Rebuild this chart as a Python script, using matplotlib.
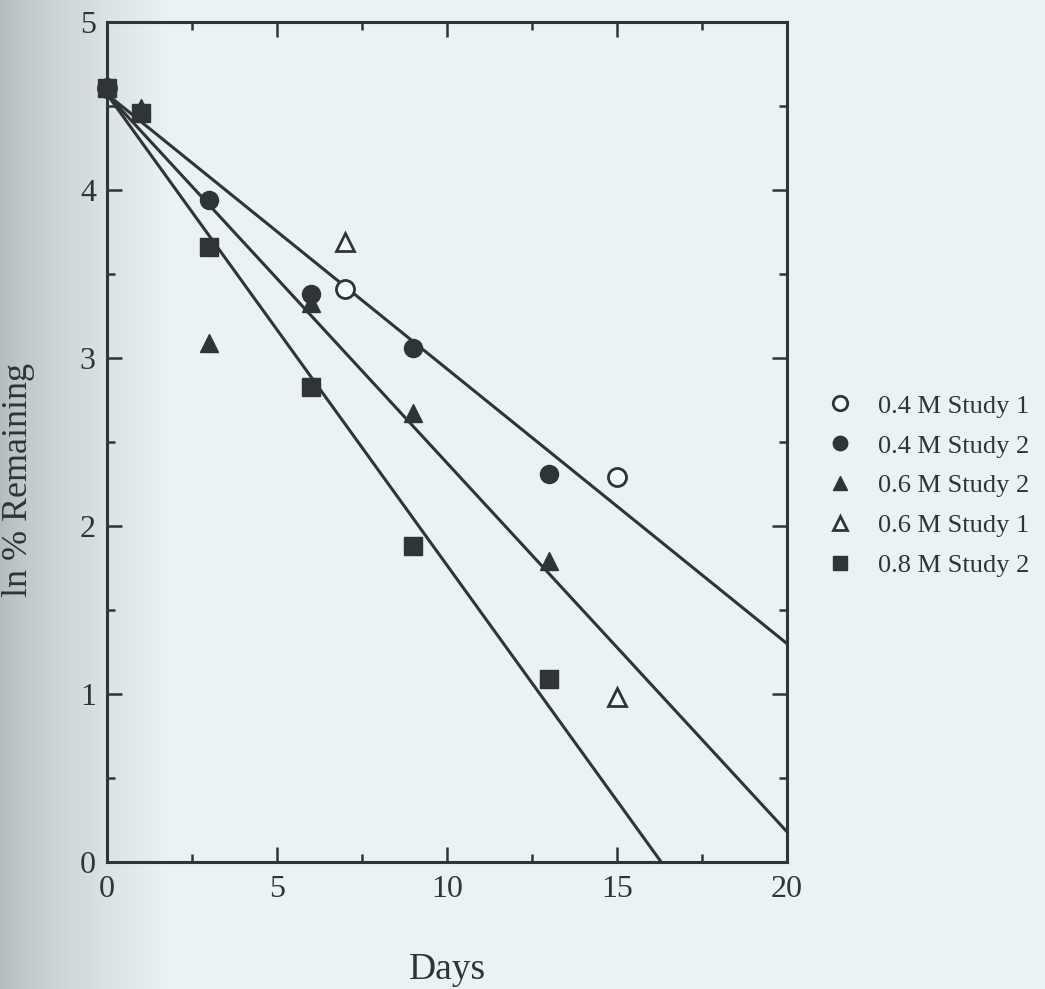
import numpy as np
import matplotlib
matplotlib.use("Agg")
from matplotlib import pyplot as plt
from matplotlib.ticker import MultipleLocator

# measured points (days, ln % remaining)
days_04_s1 = [0, 7, 15]
ln_04_s1 = [4.605, 3.41, 2.29]
days_04_s2 = [3, 6, 9, 13]
ln_04_s2 = [3.94, 3.38, 3.06, 2.31]
days_06_s2 = [1, 3, 6, 9, 13]
ln_06_s2 = [4.49, 3.09, 3.33, 2.67, 1.79]
days_06_s1 = [7, 15]
ln_06_s1 = [3.69, 0.98]
days_08_s2 = [0, 1, 3, 6, 9, 13]
ln_08_s2 = [4.605, 4.46, 3.66, 2.83, 1.88, 1.09]

# fitted lines, read as end points
fit_04_x = [0, 20]
fit_04_y = [4.57, 1.30]
fit_06_x = [0, 20]
fit_06_y = [4.57, 0.18]
fit_08_x = [0, 16.3]
fit_08_y = [4.57, 0.0]

ink = '#2f3537'
paper = '#e9f2f4'

plt.rcParams['font.family'] = ['Liberation Serif', 'DejaVu Serif']
plt.rcParams['mathtext.fontset'] = 'custom'
plt.rcParams['mathtext.rm'] = 'Liberation Serif'
plt.rcParams['mathtext.it'] = 'Liberation Serif:italic'

fig = plt.figure(figsize=(10.45, 9.89), dpi=100, facecolor=paper)

# scanned page shading on the left edge
bg = fig.add_axes([0, 0, 1, 1], zorder=-10)
shade = np.clip(np.linspace(0, 1, 1045) / 0.16, 0, 1) ** 0.75
bg.imshow(shade[None, :], aspect='auto', cmap=matplotlib.colors.LinearSegmentedColormap.from_list(
    'pg', ['#b3bdbe', paper]), vmin=0, vmax=1, extent=[0, 1, 0, 1])
bg.axis('off')

ax = fig.add_axes([0.1024, 0.1284, 0.6507, 0.8494])
ax.set_facecolor('none')

lw = 2.2
ax.plot(fit_04_x, fit_04_y, color=ink, lw=lw, zorder=2)
ax.plot(fit_06_x, fit_06_y, color=ink, lw=lw, zorder=2)
ax.plot(fit_08_x, fit_08_y, color=ink, lw=lw, zorder=2, clip_on=False)

ms = 13
h1, = ax.plot(days_04_s1, ln_04_s1, 'o', ms=ms, mfc='#f3f8f9', mec=ink, mew=2, ls='none',
              zorder=3, clip_on=False, label='0.4 M Study 1')
h4, = ax.plot(days_06_s1, ln_06_s1, '^', ms=ms, mfc='#f3f8f9', mec=ink, mew=2, ls='none',
              zorder=3, label='0.6 M Study 1')
h3, = ax.plot(days_06_s2, ln_06_s2, '^', ms=ms, mfc=ink, mec=ink, ls='none',
              zorder=4, label='0.6 M Study 2')
h2, = ax.plot(days_04_s2, ln_04_s2, 'o', ms=ms, mfc=ink, mec=ink, ls='none',
              zorder=5, label='0.4 M Study 2')
h5, = ax.plot(days_08_s2, ln_08_s2, 's', ms=ms, mfc=ink, mec=ink, ls='none',
              zorder=6, clip_on=False, label='0.8 M Study 2')

ax.set_xlim(0, 20)
ax.set_ylim(0, 5)
ax.xaxis.set_major_locator(MultipleLocator(5))
ax.xaxis.set_minor_locator(MultipleLocator(2.5))
ax.yaxis.set_major_locator(MultipleLocator(1))
ax.yaxis.set_minor_locator(MultipleLocator(0.5))
ax.tick_params(which='both', direction='in', top=True, right=True, color=ink,
               labelcolor=ink, labelsize=23)
ax.tick_params(which='major', length=11, width=1.8)
ax.tick_params(which='minor', length=6, width=1.8)
ax.tick_params(axis='x', which='major', pad=9)
ax.tick_params(axis='y', which='major', pad=8)
for s in ax.spines.values():
    s.set_color(ink)
    s.set_linewidth(2.2)

ax.set_xlabel('Days', fontsize=27, color=ink, labelpad=35)
ax.set_ylabel(r'ln $\mathit{\%}$ Remaining', fontsize=26, color=ink)
ax.yaxis.set_label_coords(-0.103, 0.455)

fig.legend(handles=[h1, h2, h3, h4, h5], loc='center left', bbox_to_anchor=(0.791, 0.509),
           frameon=False, fontsize=19, markerscale=0.8, handlelength=1.0, handletextpad=0.95,
           labelspacing=0.62, borderpad=0, borderaxespad=0, labelcolor=ink)

fig.savefig('out.png', dpi=100, facecolor=paper)
